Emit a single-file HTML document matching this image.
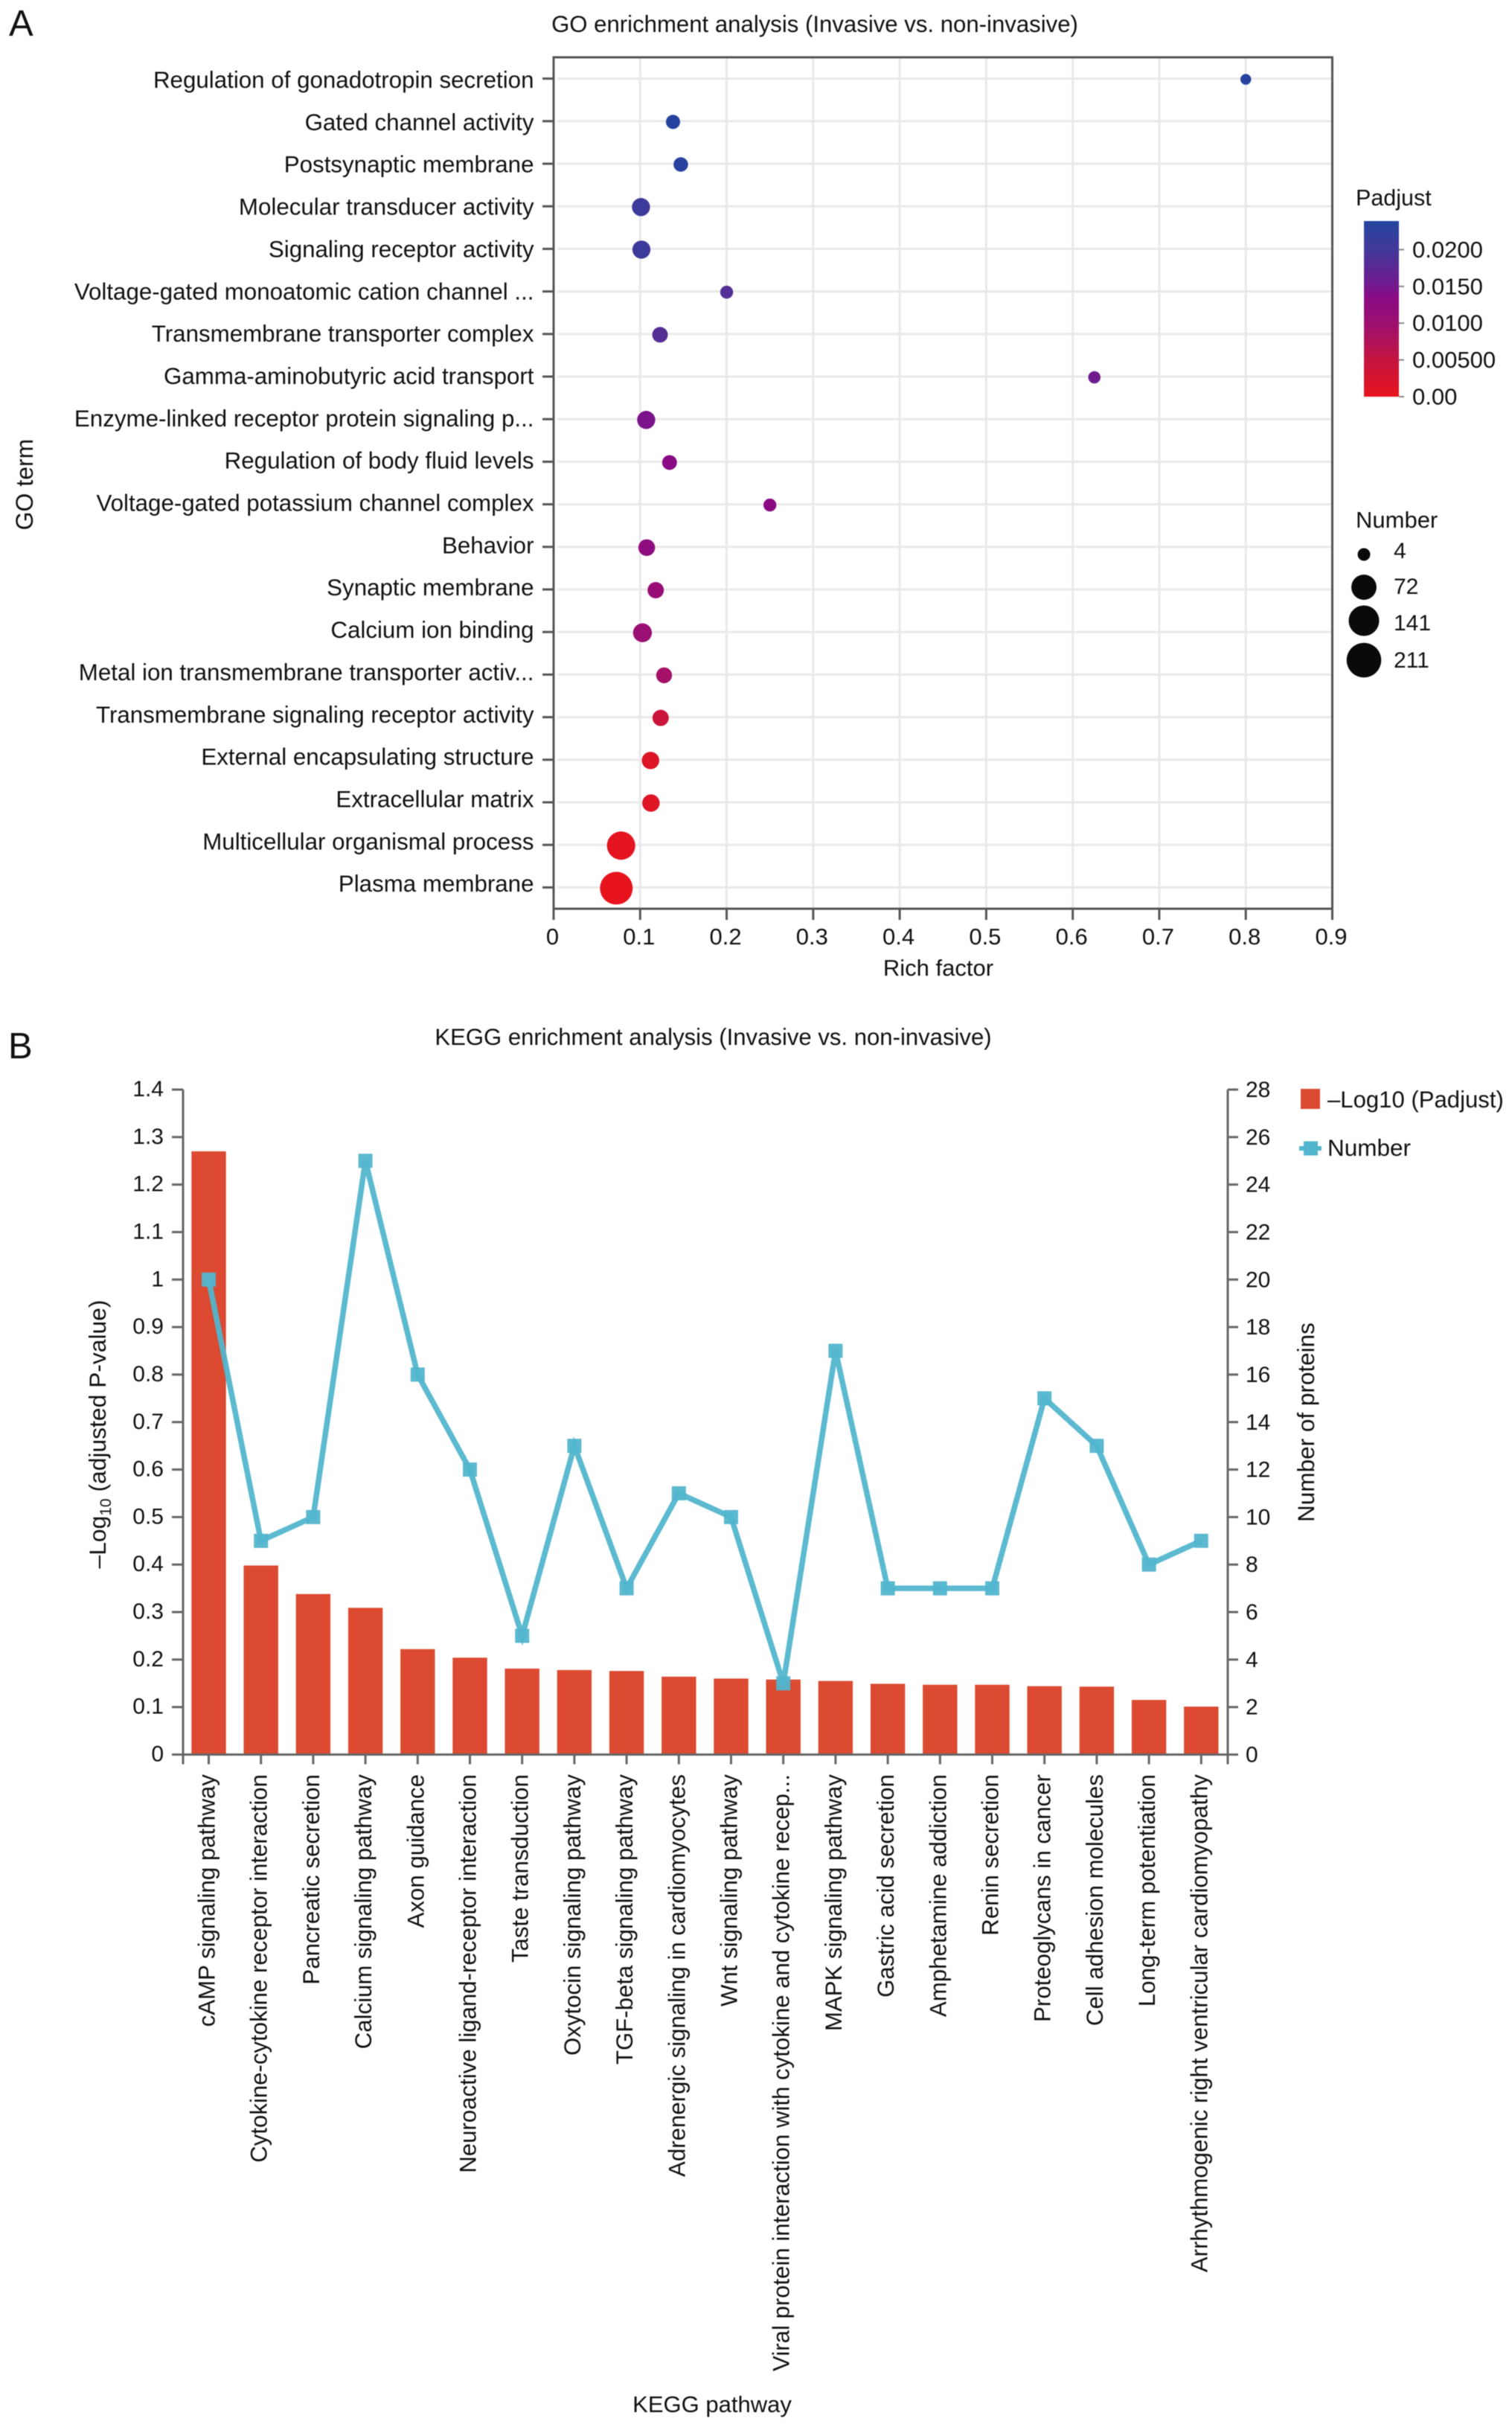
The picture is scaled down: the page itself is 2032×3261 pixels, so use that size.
<!DOCTYPE html>
<html lang="en">
<head>
<meta charset="utf-8">
<title>GO and KEGG enrichment analysis</title>
<style>
html,body{margin:0;padding:0;background:#fff}
svg{display:block;filter:blur(0.6px)}
text{font-family:"Liberation Sans",Arial,sans-serif;fill:#111}
</style>
</head>
<body>
<svg id="chart" xmlns="http://www.w3.org/2000/svg" width="2032" height="3261" viewBox="0 0 2032 3261">
  <defs>
    <linearGradient id="padjust-gradient" x1="0" y1="1" x2="0" y2="0"></linearGradient>
  </defs>
  <rect width="2032" height="3261" fill="#fff"/>

  <text x="12" y="48" font-size="49">A</text>
  <text x="1095" y="43" font-size="31.15" text-anchor="middle">GO enrichment analysis (Invasive vs. non-invasive)</text>
  <text transform="rotate(-90 44 651)" x="44" y="651" font-size="32" text-anchor="middle">GO term</text>
  <text x="1261" y="1311" font-size="31" text-anchor="middle">Rich factor</text>
  <text x="1822" y="276" font-size="30.5">Padjust</text>
  <text x="1822" y="709" font-size="31">Number</text>
  <rect id="padjust-bar" x="1833" y="297" width="47" height="236" fill="url(#padjust-gradient)"/>

  <text x="11" y="1422" font-size="49">B</text>
  <text x="958.5" y="1404" font-size="31.1" text-anchor="middle">KEGG enrichment analysis (Invasive vs. non-invasive)</text>
  <text transform="rotate(-90 142 1927)" x="142" y="1927" font-size="31.8" text-anchor="middle">–Log<tspan font-size="21" dy="7">10</tspan><tspan dy="-7"> (adjusted P-value)</tspan></text>
  <text transform="rotate(-90 1766 1911)" x="1766" y="1911" font-size="31.5" text-anchor="middle">Number of proteins</text>
  <text x="957" y="3241" font-size="31" text-anchor="middle">KEGG pathway</text>

  <rect x="1748" y="1463" width="26" height="27" fill="#DB4A31"/>
  <text x="1784" y="1488" font-size="31.1">–Log10 (Padjust)</text>
  <line x1="1746" y1="1543" x2="1776" y2="1543" stroke="#52B5CE" stroke-width="6"/>
  <rect x="1752" y="1533.5" width="19" height="19" fill="#52B5CE"/>
  <text x="1784" y="1553" font-size="31.5">Number</text>

  <g id="go-layer"></g>
  <g id="legend-layer"></g>
  <g id="kegg-layer"></g>
</svg>

<script>
// ---- Panel A data ----
const goTerms = [
  "Regulation of gonadotropin secretion","Gated channel activity","Postsynaptic membrane",
  "Molecular transducer activity","Signaling receptor activity","Voltage-gated monoatomic cation channel ...",
  "Transmembrane transporter complex","Gamma-aminobutyric acid transport","Enzyme-linked receptor protein signaling p...",
  "Regulation of body fluid levels","Voltage-gated potassium channel complex","Behavior","Synaptic membrane",
  "Calcium ion binding","Metal ion transmembrane transporter activ...","Transmembrane signaling receptor activity",
  "External encapsulating structure","Extracellular matrix","Multicellular organismal process","Plasma membrane"
];
const richFactor = [0.8,0.138,0.147,0.101,0.1015,0.2,0.123,0.625,0.107,0.134,0.25,0.1076,0.118,0.1027,0.1277,0.1237,0.112,0.1125,0.078,0.0725];
const proteinNumber = [4,9,10,27,27,6,14,5,27,11,6,19,17,32,15,17,23,23,136,211];
const padjust = [0.0235,0.0235,0.023,0.0205,0.0205,0.0185,0.018,0.0155,0.0145,0.0135,0.0135,0.0125,0.011,0.0105,0.009,0.004,0.0015,0.0012,0.0005,0.0002];
const richTicks = [0,0.1,0.2,0.3,0.4,0.5,0.6,0.7,0.8,0.9];
const padjustTicks = [0,0.005,0.01,0.015,0.02];
const padjustTickLabels = ["0.00","0.00500","0.0100","0.0150","0.0200"];
const numberBreaks = [4,72,141,211];

// ---- Panel B data ----
const pathways = [
  "cAMP signaling pathway","Cytokine-cytokine receptor interaction","Pancreatic secretion","Calcium signaling pathway",
  "Axon guidance","Neuroactive ligand-receptor interaction","Taste transduction","Oxytocin signaling pathway",
  "TGF-beta signaling pathway","Adrenergic signaling in cardiomyocytes","Wnt signaling pathway",
  "Viral protein interaction with cytokine and cytokine recep...","MAPK signaling pathway","Gastric acid secretion",
  "Amphetamine addiction","Renin secretion","Proteoglycans in cancer","Cell adhesion molecules",
  "Long-term potentiation","Arrhythmogenic right ventricular cardiomyopathy"
];
const logPadjust = [1.27,0.398,0.338,0.309,0.222,0.204,0.181,0.178,0.176,0.164,0.16,0.158,0.155,0.149,0.147,0.147,0.144,0.143,0.115,0.101];
const proteinCounts = [20,9,10,25,16,12,5,13,7,11,10,3,17,7,7,7,15,13,8,9];
const leftTicks = [0,0.1,0.2,0.3,0.4,0.5,0.6,0.7,0.8,0.9,1,1.1,1.2,1.3,1.4];
const rightTicks = [0,2,4,6,8,10,12,14,16,18,20,22,24,26,28];

const NS = "http://www.w3.org/2000/svg";
function mk(tag, attrs, parent, txt){
  const el = document.createElementNS(NS, tag);
  for (const k in attrs) el.setAttribute(k, attrs[k]);
  if (txt !== undefined) el.textContent = txt;
  parent.appendChild(el);
  return el;
}
const slug = s => String(s).toLowerCase().replace(/[^a-z0-9]+/g,'-').replace(/^-|-$/g,'');

// ---- Scales panel A ----
const A = {l:744, r:1790.5, t:77, b:1221};
const xA = v => A.l + (v / 0.9) * (A.r - A.l);
const yA = i => A.t + (A.b - A.t) / goTerms.length * (i + 0.5);
const labelYA = i => 118 + 56.85 * i;
const sizeA = n => 14.5 + 29.5 * Math.sqrt((n - 4) / 207);
const colorStops = [[0,[232,20,28]],[0.005,[196,20,64]],[0.01,[156,16,112]],[0.0135,[138,10,132]],[0.015,[116,25,142]],[0.02,[66,56,154]],[0.0238,[36,69,159]]];
function padColor(p){
  for (let i = 1; i < colorStops.length; i++){
    if (p <= colorStops[i][0]){
      const a = colorStops[i-1], b = colorStops[i];
      const t = (p - a[0]) / (b[0] - a[0]);
      const c = a[1].map((v,j) => Math.round(v + (b[1][j] - v) * t));
      return `rgb(${c[0]},${c[1]},${c[2]})`;
    }
  }
  const last = colorStops[colorStops.length-1][1];
  return `rgb(${last[0]},${last[1]},${last[2]})`;
}

// ---- Draw panel A ----
const go = document.getElementById('go-layer');
richTicks.forEach(t => {
  const x = xA(t);
  if (t > 0 && t < 0.9){
    const g = mk('line',{x1:x,x2:x,y1:A.t,y2:A.b,stroke:'#e9e9ec','stroke-width':3},go);
    
    
  }
});
goTerms.forEach((term,i) => {
  const y = yA(i);
  const g = mk('line',{x1:A.l+5,x2:A.r,y1:y,y2:y,stroke:'#e9e9e9','stroke-width':3},go);
  
  
  const tk = mk('line',{x1:729,x2:A.l,y1:y,y2:y,stroke:'#555','stroke-width':3},go);
  
  
  const lb = mk('text',{x:717.5,y:labelYA(i),'font-size':31.3,'text-anchor':'end'},go,term);
  
  
});
const frame = mk('rect',{x:A.l,y:A.t,width:A.r-A.l,height:A.b-A.t,fill:'none',stroke:'#555','stroke-width':3},go);


richTicks.forEach(t => {
  const x = xA(t);
  const tk = mk('line',{x1:x,x2:x,y1:A.b,y2:A.b+15,stroke:'#555','stroke-width':3},go);
  
  
  const lb = mk('text',{x:x-1.5,y:A.b+48,'font-size':31,'text-anchor':'middle'},go,String(t));
  
  
});
goTerms.forEach((term,i) => {
  const c = mk('circle',{cx:xA(richFactor[i]),cy:yA(i)+1,r:sizeA(proteinNumber[i])/2,fill:padColor(padjust[i])},go);
  
  
});

// ---- Legends panel A ----
const grad = document.getElementById('padjust-gradient');
colorStops.forEach(s => {
  mk('stop',{offset:(s[0]/0.0238*100)+'%','stop-color':padColor(s[0])},grad);
});
const leg = document.getElementById('legend-layer');
const yPad = p => 533 - p / 0.005 * 49.4;
padjustTicks.forEach((p,i) => {
  const y = yPad(p);
  const tk = mk('line',{x1:1880,x2:1887,y1:y,y2:y,stroke:'#888','stroke-width':2},leg);
  
  
  const lb = mk('text',{x:1898,y:y+10.5,'font-size':31},leg,padjustTickLabels[i]);
  
  
});
const legendRowY = i => [745,789,834,887][i];
numberBreaks.forEach((n,i) => {
  const c = mk('circle',{cx:1833,cy:legendRowY(i),r:(sizeA(n)+2.5)/2,fill:'#0a0a0a'},leg);
  
  
  const lb = mk('text',{x:1873,y:[750,798,847,897][i],'font-size':30},leg,String(n));
  
  
});

// ---- Scales panel B ----
const B = {l:246, r:1650, t:1464, b:2357.5};
const bandB = 70.2;
const xB = i => 280.5 + bandB * i;
const yLeft = v => B.b - v / 1.4 * (B.b - B.t);
const yRight = v => B.b - v / 28 * (B.b - B.t);

// ---- Draw panel B ----
const kegg = document.getElementById('kegg-layer');
pathways.forEach((p,i) => {
  const bar = mk('rect',{x:xB(i)-23.2,y:yLeft(logPadjust[i]),width:46.4,height:B.b-yLeft(logPadjust[i]),fill:'#DB4A31'},kegg);
  
  
});
const axisParts = [
  ['kegg-left-axis-line',B.l,B.t,B.l,B.b+13],
  ['kegg-right-axis-line',B.r,B.t,B.r,B.b+13],
  ['kegg-x-axis-line',B.l-15,B.b,B.r+14,B.b]
];
axisParts.forEach(a => {
  const ln = mk('line',{x1:a[1],y1:a[2],x2:a[3],y2:a[4],stroke:'#666','stroke-width':3},kegg);
  
  
});
leftTicks.forEach(t => {
  const y = yLeft(t);
  const tk = mk('line',{x1:B.l-15,x2:B.l,y1:y,y2:y,stroke:'#666','stroke-width':3},kegg);
  
  
  const lb = mk('text',{x:220,y:y+9,'font-size':30,'text-anchor':'end'},kegg,String(t));
  
  
});
rightTicks.forEach(t => {
  const y = yRight(t);
  const tk = mk('line',{x1:B.r,x2:B.r+14,y1:y,y2:y,stroke:'#666','stroke-width':3},kegg);
  
  
  const lb = mk('text',{x:1674,y:y+10,'font-size':30},kegg,String(t));
  
  
});
pathways.forEach((p,i) => {
  const x = xB(i);
  const tk = mk('line',{x1:x,x2:x,y1:B.b,y2:B.b+13,stroke:'#666','stroke-width':3},kegg);
  
  
  const bx = x + 8, by = 2384;
  const lb = mk('text',{x:bx,y:by,'font-size':31.2,'text-anchor':'end',transform:`rotate(-90 ${bx} ${by})`},kegg,p);
  
  
});
const pts = proteinCounts.map((v,i) => xB(i)+','+yRight(v)).join(' ');
const line = mk('polyline',{points:pts,fill:'none',stroke:'#52B5CE','stroke-width':7.5,'stroke-linejoin':'miter','stroke-opacity':0.95},kegg);


proteinCounts.forEach((v,i) => {
  const m = mk('rect',{x:xB(i)-9.5,y:yRight(v)-9.5,width:19,height:19,fill:'#52B5CE','fill-opacity':0.95},kegg);
  
  
});
</script>
</body>
</html>
